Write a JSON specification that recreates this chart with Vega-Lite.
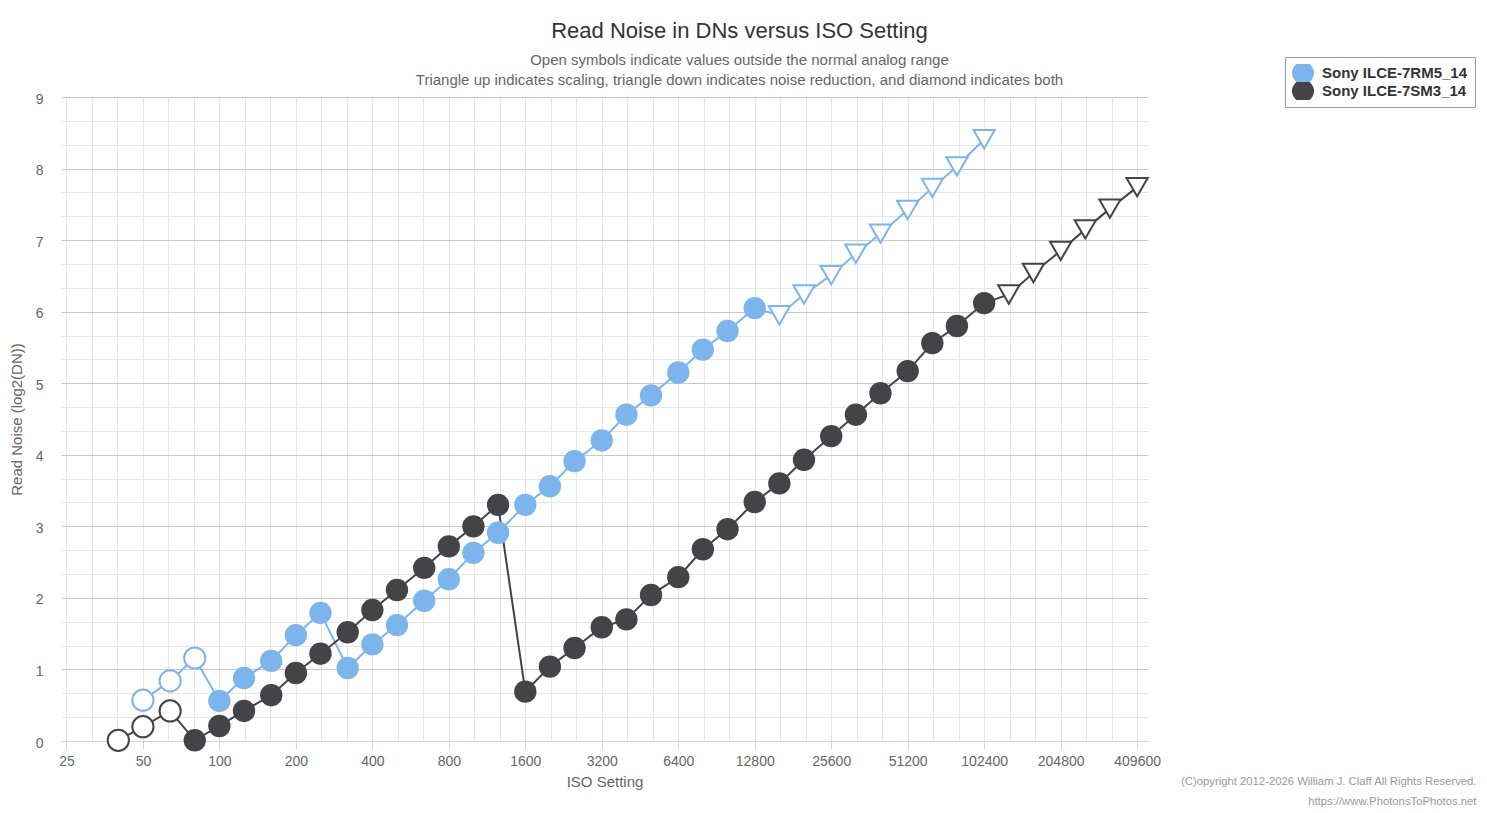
{
  "$schema": "https://vega.github.io/schema/vega-lite/v6.json",
  "width": 1087,
  "height": 644,
  "autosize": "none",
  "padding": {"left": 61, "top": 97, "right": 339, "bottom": 72},
  "background": "white",
  "config": {
    "view": {"stroke": "transparent"},
    "font": "Liberation Sans",
    "axis": {"labelOverlap": false},
    "axisY": {"labelOverlap": false}
  },
  "title": {
    "text": "Read Noise in DNs versus ISO Setting",
    "subtitle": [
      "Open symbols indicate values outside the normal analog range",
      "Triangle up indicates scaling, triangle down indicates noise reduction, and diamond indicates both"
    ],
    "frame": "group",
    "anchor": "middle",
    "dx": 135,
    "fontSize": 22,
    "fontWeight": "normal",
    "color": "#333333",
    "subtitleFontSize": 15,
    "subtitleColor": "#666666",
    "subtitlePadding": 10,
    "subtitleLineHeight": 20,
    "offset": -32
  },
  "data": {
    "values": [
      {"camera": "Sony ILCE-7RM5_14", "iso": 50, "noise": 0.57, "kind": "open"},
      {"camera": "Sony ILCE-7RM5_14", "iso": 64, "noise": 0.84, "kind": "open"},
      {"camera": "Sony ILCE-7RM5_14", "iso": 80, "noise": 1.16, "kind": "open"},
      {"camera": "Sony ILCE-7RM5_14", "iso": 100, "noise": 0.56, "kind": "normal"},
      {"camera": "Sony ILCE-7RM5_14", "iso": 125, "noise": 0.88, "kind": "normal"},
      {"camera": "Sony ILCE-7RM5_14", "iso": 160, "noise": 1.12, "kind": "normal"},
      {"camera": "Sony ILCE-7RM5_14", "iso": 200, "noise": 1.48, "kind": "normal"},
      {"camera": "Sony ILCE-7RM5_14", "iso": 250, "noise": 1.79, "kind": "normal"},
      {"camera": "Sony ILCE-7RM5_14", "iso": 320, "noise": 1.02, "kind": "normal"},
      {"camera": "Sony ILCE-7RM5_14", "iso": 400, "noise": 1.35, "kind": "normal"},
      {"camera": "Sony ILCE-7RM5_14", "iso": 500, "noise": 1.62, "kind": "normal"},
      {"camera": "Sony ILCE-7RM5_14", "iso": 640, "noise": 1.96, "kind": "normal"},
      {"camera": "Sony ILCE-7RM5_14", "iso": 800, "noise": 2.26, "kind": "normal"},
      {"camera": "Sony ILCE-7RM5_14", "iso": 1000, "noise": 2.63, "kind": "normal"},
      {"camera": "Sony ILCE-7RM5_14", "iso": 1250, "noise": 2.91, "kind": "normal"},
      {"camera": "Sony ILCE-7RM5_14", "iso": 1600, "noise": 3.30, "kind": "normal"},
      {"camera": "Sony ILCE-7RM5_14", "iso": 2000, "noise": 3.56, "kind": "normal"},
      {"camera": "Sony ILCE-7RM5_14", "iso": 2500, "noise": 3.91, "kind": "normal"},
      {"camera": "Sony ILCE-7RM5_14", "iso": 3200, "noise": 4.20, "kind": "normal"},
      {"camera": "Sony ILCE-7RM5_14", "iso": 4000, "noise": 4.56, "kind": "normal"},
      {"camera": "Sony ILCE-7RM5_14", "iso": 5000, "noise": 4.83, "kind": "normal"},
      {"camera": "Sony ILCE-7RM5_14", "iso": 6400, "noise": 5.15, "kind": "normal"},
      {"camera": "Sony ILCE-7RM5_14", "iso": 8000, "noise": 5.47, "kind": "normal"},
      {"camera": "Sony ILCE-7RM5_14", "iso": 10000, "noise": 5.73, "kind": "normal"},
      {"camera": "Sony ILCE-7RM5_14", "iso": 12800, "noise": 6.05, "kind": "normal"},
      {"camera": "Sony ILCE-7RM5_14", "iso": 16000, "noise": 5.95, "kind": "nr"},
      {"camera": "Sony ILCE-7RM5_14", "iso": 20000, "noise": 6.24, "kind": "nr"},
      {"camera": "Sony ILCE-7RM5_14", "iso": 25600, "noise": 6.51, "kind": "nr"},
      {"camera": "Sony ILCE-7RM5_14", "iso": 32000, "noise": 6.81, "kind": "nr"},
      {"camera": "Sony ILCE-7RM5_14", "iso": 40000, "noise": 7.09, "kind": "nr"},
      {"camera": "Sony ILCE-7RM5_14", "iso": 51200, "noise": 7.42, "kind": "nr"},
      {"camera": "Sony ILCE-7RM5_14", "iso": 64000, "noise": 7.73, "kind": "nr"},
      {"camera": "Sony ILCE-7RM5_14", "iso": 80000, "noise": 8.03, "kind": "nr"},
      {"camera": "Sony ILCE-7RM5_14", "iso": 102400, "noise": 8.41, "kind": "nr"},
      {"camera": "Sony ILCE-7SM3_14", "iso": 40, "noise": 0.01, "kind": "open"},
      {"camera": "Sony ILCE-7SM3_14", "iso": 50, "noise": 0.20, "kind": "open"},
      {"camera": "Sony ILCE-7SM3_14", "iso": 64, "noise": 0.42, "kind": "open"},
      {"camera": "Sony ILCE-7SM3_14", "iso": 80, "noise": 0.01, "kind": "normal"},
      {"camera": "Sony ILCE-7SM3_14", "iso": 100, "noise": 0.21, "kind": "normal"},
      {"camera": "Sony ILCE-7SM3_14", "iso": 125, "noise": 0.42, "kind": "normal"},
      {"camera": "Sony ILCE-7SM3_14", "iso": 160, "noise": 0.64, "kind": "normal"},
      {"camera": "Sony ILCE-7SM3_14", "iso": 200, "noise": 0.95, "kind": "normal"},
      {"camera": "Sony ILCE-7SM3_14", "iso": 250, "noise": 1.22, "kind": "normal"},
      {"camera": "Sony ILCE-7SM3_14", "iso": 320, "noise": 1.52, "kind": "normal"},
      {"camera": "Sony ILCE-7SM3_14", "iso": 400, "noise": 1.83, "kind": "normal"},
      {"camera": "Sony ILCE-7SM3_14", "iso": 500, "noise": 2.11, "kind": "normal"},
      {"camera": "Sony ILCE-7SM3_14", "iso": 640, "noise": 2.42, "kind": "normal"},
      {"camera": "Sony ILCE-7SM3_14", "iso": 800, "noise": 2.72, "kind": "normal"},
      {"camera": "Sony ILCE-7SM3_14", "iso": 1000, "noise": 3.00, "kind": "normal"},
      {"camera": "Sony ILCE-7SM3_14", "iso": 1250, "noise": 3.30, "kind": "normal"},
      {"camera": "Sony ILCE-7SM3_14", "iso": 1600, "noise": 0.69, "kind": "normal"},
      {"camera": "Sony ILCE-7SM3_14", "iso": 2000, "noise": 1.04, "kind": "normal"},
      {"camera": "Sony ILCE-7SM3_14", "iso": 2500, "noise": 1.30, "kind": "normal"},
      {"camera": "Sony ILCE-7SM3_14", "iso": 3200, "noise": 1.59, "kind": "normal"},
      {"camera": "Sony ILCE-7SM3_14", "iso": 4000, "noise": 1.70, "kind": "normal"},
      {"camera": "Sony ILCE-7SM3_14", "iso": 5000, "noise": 2.04, "kind": "normal"},
      {"camera": "Sony ILCE-7SM3_14", "iso": 6400, "noise": 2.29, "kind": "normal"},
      {"camera": "Sony ILCE-7SM3_14", "iso": 8000, "noise": 2.68, "kind": "normal"},
      {"camera": "Sony ILCE-7SM3_14", "iso": 10000, "noise": 2.96, "kind": "normal"},
      {"camera": "Sony ILCE-7SM3_14", "iso": 12800, "noise": 3.34, "kind": "normal"},
      {"camera": "Sony ILCE-7SM3_14", "iso": 16000, "noise": 3.60, "kind": "normal"},
      {"camera": "Sony ILCE-7SM3_14", "iso": 20000, "noise": 3.93, "kind": "normal"},
      {"camera": "Sony ILCE-7SM3_14", "iso": 25600, "noise": 4.26, "kind": "normal"},
      {"camera": "Sony ILCE-7SM3_14", "iso": 32000, "noise": 4.56, "kind": "normal"},
      {"camera": "Sony ILCE-7SM3_14", "iso": 40000, "noise": 4.86, "kind": "normal"},
      {"camera": "Sony ILCE-7SM3_14", "iso": 51200, "noise": 5.17, "kind": "normal"},
      {"camera": "Sony ILCE-7SM3_14", "iso": 64000, "noise": 5.56, "kind": "normal"},
      {"camera": "Sony ILCE-7SM3_14", "iso": 80000, "noise": 5.80, "kind": "normal"},
      {"camera": "Sony ILCE-7SM3_14", "iso": 102400, "noise": 6.12, "kind": "normal"},
      {"camera": "Sony ILCE-7SM3_14", "iso": 128000, "noise": 6.24, "kind": "nr"},
      {"camera": "Sony ILCE-7SM3_14", "iso": 160000, "noise": 6.54, "kind": "nr"},
      {"camera": "Sony ILCE-7SM3_14", "iso": 204800, "noise": 6.85, "kind": "nr"},
      {"camera": "Sony ILCE-7SM3_14", "iso": 256000, "noise": 7.15, "kind": "nr"},
      {"camera": "Sony ILCE-7SM3_14", "iso": 320000, "noise": 7.44, "kind": "nr"},
      {"camera": "Sony ILCE-7SM3_14", "iso": 409600, "noise": 7.74, "kind": "nr"}
    ]
  },
  "encoding": {
    "y": {
      "field": "noise",
      "type": "quantitative",
      "scale": {"domain": [0, 9], "nice": false},
      "axis": {
        "title": "Read Noise (log2(DN))",
        "titleFontSize": 15,
        "titleFontWeight": "normal",
        "titleColor": "#666666",
        "titleX": -45,
        "titleY": 322,
        "titleAngle": -90,
        "titleAlign": "center",
        "titleBaseline": "middle",
        "values": [0, 0.3333, 0.6667, 1, 1.3333, 1.6667, 2, 2.3333, 2.6667, 3, 3.3333, 3.6667, 4, 4.3333, 4.6667, 5, 5.3333, 5.6667, 6, 6.3333, 6.6667, 7, 7.3333, 7.6667, 8, 8.3333, 8.6667, 9],
        "labelExpr": "abs(datum.value - round(datum.value)) < 0.01 ? format(datum.value, 'd') : ''",
        "labelFontSize": 14,
        "labelColor": "#666666",
        "labelPadding": 18,
        "labelOffset": 2,
        "labelFlush": false,
        "labelOverlap": false,
        "labelBound": false,
        "ticks": false,
        "domain": false,
        "grid": true,
        "gridColor": {"condition": {"test": "abs(datum.value - round(datum.value)) < 0.01", "value": "#c8c8c8"}, "value": "#e6e6e6"}
      }
    },
    "color": {
      "field": "camera",
      "type": "nominal",
      "scale": {"domain": ["Sony ILCE-7RM5_14", "Sony ILCE-7SM3_14"], "range": ["#7cb5ec", "#434348"]},
      "legend": {
        "title": null,
        "orient": "none",
        "legendX": 1224,
        "legendY": -40,
        "symbolType": "circle",
        "symbolSize": 484,
        "symbolStrokeWidth": 0,
        "symbolOpacity": 1,
        "labelFontSize": 15,
        "labelFontWeight": "bold",
        "labelColor": "#333333",
        "labelOffset": 8,
        "clipHeight": 18,
        "rowPadding": 0,
        "padding": 7,
        "strokeColor": "#999999",
        "fillColor": "white"
      }
    }
  },
  "layer": [
    {
      "mark": {"type": "line", "strokeWidth": 2},
      "encoding": {
        "x": {
          "field": "iso",
          "type": "quantitative",
          "scale": {"type": "log", "base": 2, "domain": [23.8, 452000], "nice": false, "zero": false},
          "axis": {
            "title": "ISO Setting",
            "titleFontSize": 15,
            "titleFontWeight": "normal",
            "titleColor": "#666666",
            "titlePadding": 6,
            "values": [25, 31.498, 39.685, 50, 62.996, 79.37, 100, 125.99, 158.74, 200, 251.98, 317.48, 400, 503.97, 634.96, 800, 1007.9, 1269.9, 1600, 2015.9, 2539.8, 3200, 4031.7, 5079.7, 6400, 8063.5, 10159, 12800, 16127, 20319, 25600, 32254, 40637, 51200, 64508, 81275, 102400, 129016, 162550, 204800, 258032, 325100, 409600],
            "labelExpr": "indexof([25,50,100,200,400,800,1600,3200,6400,12800,25600,51200,102400,204800,409600], datum.value) >= 0 ? datum.value : ''",
            "labelFontSize": 14,
            "labelColor": "#666666",
            "labelPadding": 5,
            "labelFlush": false,
            "labelOverlap": false,
            "grid": true,
            "gridColor": "#e3e6ec",
            "gridWidth": 1,
            "domainColor": "#ccd6eb",
            "tickColor": "#ccd6eb",
            "tickSize": 8,
            "tickOpacity": {"condition": {"test": "indexof([25,50,100,200,400,800,1600,3200,6400,12800,25600,51200,102400,204800,409600], datum.value) >= 0", "value": 1}, "value": 0}
          }
        }
      }
    },
    {
      "transform": [{"filter": "datum.kind === 'normal'"}],
      "mark": {"type": "point", "filled": true, "shape": "circle", "size": 500, "opacity": 1},
      "encoding": {
        "x": {"field": "iso", "type": "quantitative", "axis": null}
      }
    },
    {
      "transform": [{"filter": "datum.kind !== 'normal'"}],
      "mark": {"type": "point", "filled": false, "fill": "white", "size": 450, "strokeWidth": 2, "opacity": 1},
      "encoding": {
        "x": {
          "field": "iso",
          "type": "quantitative",
          "axis": {
            "orient": "bottom",
            "domain": false,
            "ticks": false,
            "labels": false,
            "grid": false,
            "title": ["(C)opyright 2012-2026 William J. Claff All Rights Reserved.", "https://www.PhotonsToPhotos.net"],
            "titleFontSize": 11.3,
            "titleFontWeight": "normal",
            "titleColor": "#999999",
            "titleAlign": "right",
            "titleAnchor": "end",
            "titleBaseline": "middle",
            "titleLineHeight": 20,
            "titleX": 1415,
            "titleY": 40
          }
        },
        "shape": {
          "field": "kind",
          "type": "nominal",
          "scale": {"domain": ["open", "nr"], "range": ["circle", "triangle-down"]},
          "legend": null
        }
      }
    }
  ],
  "resolve": {"axis": {"x": "independent"}}
}
